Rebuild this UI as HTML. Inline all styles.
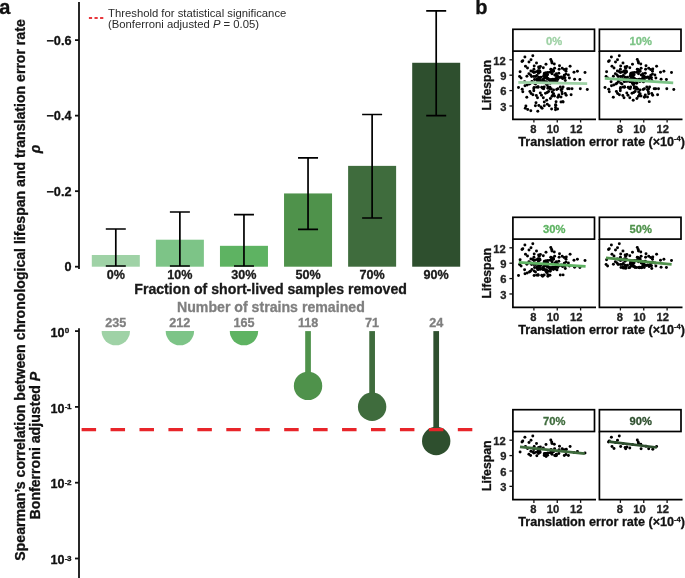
<!DOCTYPE html>
<html><head><meta charset="utf-8"><style>
html,body{margin:0;padding:0;background:#fff;width:685px;height:578px;overflow:hidden}
svg{display:block;will-change:transform}
</style></head><body>
<svg width="685" height="578" viewBox="0 0 685 578">
<rect width="685" height="578" fill="#fff"/>
<rect x="91.80" y="254.99" width="48.0" height="11.71" fill="#9fd2a6"/>
<rect x="155.88" y="239.70" width="48.0" height="27.00" fill="#7dc487"/>
<rect x="219.96" y="245.82" width="48.0" height="20.88" fill="#5eb362"/>
<rect x="284.04" y="193.44" width="48.0" height="73.26" fill="#4f924b"/>
<rect x="348.12" y="165.87" width="48.0" height="100.83" fill="#3f6c3d"/>
<rect x="412.20" y="62.77" width="48.0" height="203.93" fill="#2e4f2e"/>
<path d="M105.80 229.0H125.80M115.80 229.0V266.0M105.80 266.0H125.80" stroke="#000" stroke-width="1.7" fill="none"/>
<path d="M169.88 212.0H189.88M179.88 212.0V266.0M169.88 266.0H189.88" stroke="#000" stroke-width="1.7" fill="none"/>
<path d="M233.96 214.6H253.96M243.96 214.6V266.0M233.96 266.0H253.96" stroke="#000" stroke-width="1.7" fill="none"/>
<path d="M298.04 157.8H318.04M308.04 157.8V229.4M298.04 229.4H318.04" stroke="#000" stroke-width="1.7" fill="none"/>
<path d="M362.12 114.5H382.12M372.12 114.5V218.0M362.12 218.0H382.12" stroke="#000" stroke-width="1.7" fill="none"/>
<path d="M426.20 10.8H446.20M436.20 10.8V115.6M426.20 115.6H446.20" stroke="#000" stroke-width="1.7" fill="none"/>
<path d="M79 2V269" stroke="#111" stroke-width="1.8" fill="none"/>
<path d="M75 40.11H79" stroke="#111" stroke-width="1.8"/>
<text x="71.5" y="44.61" text-anchor="end" font-size="12.7" font-weight="bold" font-family="Liberation Sans, sans-serif" fill="#111" stroke="#111" stroke-width="0.3">−0.6</text>
<path d="M75 115.64H79" stroke="#111" stroke-width="1.8"/>
<text x="71.5" y="120.14" text-anchor="end" font-size="12.7" font-weight="bold" font-family="Liberation Sans, sans-serif" fill="#111" stroke="#111" stroke-width="0.3">−0.4</text>
<path d="M75 191.17H79" stroke="#111" stroke-width="1.8"/>
<text x="71.5" y="195.67" text-anchor="end" font-size="12.7" font-weight="bold" font-family="Liberation Sans, sans-serif" fill="#111" stroke="#111" stroke-width="0.3">−0.2</text>
<path d="M75 266.70H79" stroke="#111" stroke-width="1.8"/>
<text x="71.5" y="271.20" text-anchor="end" font-size="12.7" font-weight="bold" font-family="Liberation Sans, sans-serif" fill="#111" stroke="#111" stroke-width="0.3">0</text>
<text x="115.80" y="279" text-anchor="middle" font-size="12.6" font-weight="bold" font-family="Liberation Sans, sans-serif" fill="#1a1a1a" stroke="#1a1a1a" stroke-width="0.3">0%</text>
<text x="179.88" y="279" text-anchor="middle" font-size="12.6" font-weight="bold" font-family="Liberation Sans, sans-serif" fill="#1a1a1a" stroke="#1a1a1a" stroke-width="0.3">10%</text>
<text x="243.96" y="279" text-anchor="middle" font-size="12.6" font-weight="bold" font-family="Liberation Sans, sans-serif" fill="#1a1a1a" stroke="#1a1a1a" stroke-width="0.3">30%</text>
<text x="308.04" y="279" text-anchor="middle" font-size="12.6" font-weight="bold" font-family="Liberation Sans, sans-serif" fill="#1a1a1a" stroke="#1a1a1a" stroke-width="0.3">50%</text>
<text x="372.12" y="279" text-anchor="middle" font-size="12.6" font-weight="bold" font-family="Liberation Sans, sans-serif" fill="#1a1a1a" stroke="#1a1a1a" stroke-width="0.3">70%</text>
<text x="436.20" y="279" text-anchor="middle" font-size="12.6" font-weight="bold" font-family="Liberation Sans, sans-serif" fill="#1a1a1a" stroke="#1a1a1a" stroke-width="0.3">90%</text>
<text x="270.6" y="293.8" text-anchor="middle" font-size="14.15" font-weight="bold" font-family="Liberation Sans, sans-serif" fill="#1a1a1a" stroke="#1a1a1a" stroke-width="0.3">Fraction of short-lived samples removed</text>
<text x="270.9" y="311.5" text-anchor="middle" font-size="14.15" font-weight="bold" font-family="Liberation Sans, sans-serif" fill="#7f7f7f" stroke="#7f7f7f" stroke-width="0.3">Number of strains remained</text>
<text x="115.80" y="326.8" text-anchor="middle" font-size="12.6" font-weight="bold" font-family="Liberation Sans, sans-serif" fill="#7f7f7f" stroke="#7f7f7f" stroke-width="0.3">235</text>
<text x="179.88" y="326.8" text-anchor="middle" font-size="12.6" font-weight="bold" font-family="Liberation Sans, sans-serif" fill="#7f7f7f" stroke="#7f7f7f" stroke-width="0.3">212</text>
<text x="243.96" y="326.8" text-anchor="middle" font-size="12.6" font-weight="bold" font-family="Liberation Sans, sans-serif" fill="#7f7f7f" stroke="#7f7f7f" stroke-width="0.3">165</text>
<text x="308.04" y="326.8" text-anchor="middle" font-size="12.6" font-weight="bold" font-family="Liberation Sans, sans-serif" fill="#7f7f7f" stroke="#7f7f7f" stroke-width="0.3">118</text>
<text x="372.12" y="326.8" text-anchor="middle" font-size="12.6" font-weight="bold" font-family="Liberation Sans, sans-serif" fill="#7f7f7f" stroke="#7f7f7f" stroke-width="0.3">71</text>
<text x="436.20" y="326.8" text-anchor="middle" font-size="12.6" font-weight="bold" font-family="Liberation Sans, sans-serif" fill="#7f7f7f" stroke="#7f7f7f" stroke-width="0.3">24</text>
<path d="M88.9 17.9H103.4" stroke="#e8383d" stroke-width="2" stroke-dasharray="3.2 2.4"/>
<text x="108" y="17.4" font-size="11.3" font-family="Liberation Sans, sans-serif" fill="#2a2a2a">Threshold for statistical significance</text>
<text x="108" y="28.3" font-size="11.3" font-family="Liberation Sans, sans-serif" fill="#2a2a2a">(Bonferroni adjusted <tspan font-style="italic">P</tspan> = 0.05)</text>
<defs><clipPath id="cp"><rect x="79" y="331.1" width="400" height="260"/></clipPath></defs>
<g clip-path="url(#cp)"><circle cx="115.80" cy="331.1" r="14.2" fill="#9fd2a6"/><circle cx="179.88" cy="331.1" r="14.2" fill="#7dc487"/><circle cx="243.96" cy="331.1" r="14.2" fill="#5eb362"/><rect x="305.19" y="331.1" width="5.7" height="54.80" fill="#4f924b"/><circle cx="308.04" cy="385.9" r="14.2" fill="#4f924b"/><rect x="369.27" y="331.1" width="5.7" height="75.60" fill="#3f6c3d"/><circle cx="372.12" cy="406.7" r="14.2" fill="#3f6c3d"/><rect x="433.35" y="331.1" width="5.7" height="109.90" fill="#2e4f2e"/><circle cx="436.20" cy="441.0" r="14.2" fill="#2e4f2e"/></g>
<path d="M81.6 429.6H473" stroke="#e8252a" stroke-width="3.3" stroke-dasharray="14.5 14.44"/>
<path d="M79 328.2V578" stroke="#111" stroke-width="1.8" fill="none"/>
<path d="M75 331.10H79" stroke="#111" stroke-width="1.8"/>
<text x="64.5" y="336.70" text-anchor="end" font-size="12.6" font-weight="bold" font-family="Liberation Sans, sans-serif" fill="#111" stroke="#111" stroke-width="0.3">10</text>
<text x="64.8" y="333.10" font-size="8.1" letter-spacing="-0.6" font-weight="bold" font-family="Liberation Sans, sans-serif" fill="#111" stroke="#111" stroke-width="0.3">0</text>
<path d="M75 406.90H79" stroke="#111" stroke-width="1.8"/>
<text x="64.5" y="412.50" text-anchor="end" font-size="12.6" font-weight="bold" font-family="Liberation Sans, sans-serif" fill="#111" stroke="#111" stroke-width="0.3">10</text>
<text x="64.8" y="408.90" font-size="8.1" letter-spacing="-0.6" font-weight="bold" font-family="Liberation Sans, sans-serif" fill="#111" stroke="#111" stroke-width="0.3">-1</text>
<path d="M75 482.70H79" stroke="#111" stroke-width="1.8"/>
<text x="64.5" y="488.30" text-anchor="end" font-size="12.6" font-weight="bold" font-family="Liberation Sans, sans-serif" fill="#111" stroke="#111" stroke-width="0.3">10</text>
<text x="64.8" y="484.70" font-size="8.1" letter-spacing="-0.6" font-weight="bold" font-family="Liberation Sans, sans-serif" fill="#111" stroke="#111" stroke-width="0.3">-2</text>
<path d="M75 558.50H79" stroke="#111" stroke-width="1.8"/>
<text x="64.5" y="564.10" text-anchor="end" font-size="12.6" font-weight="bold" font-family="Liberation Sans, sans-serif" fill="#111" stroke="#111" stroke-width="0.3">10</text>
<text x="64.8" y="560.50" font-size="8.1" letter-spacing="-0.6" font-weight="bold" font-family="Liberation Sans, sans-serif" fill="#111" stroke="#111" stroke-width="0.3">-3</text>
<text transform="translate(25 290) rotate(-90)" text-anchor="middle" font-size="14.1" font-weight="bold" font-family="Liberation Sans, sans-serif" fill="#111" stroke="#111" stroke-width="0.3">Spearman’s correlation between chronological lifespan and translation error rate</text>
<text transform="translate(40 149) rotate(-90)" text-anchor="middle" font-size="14" font-style="italic" font-weight="bold" font-family="Liberation Sans, sans-serif" fill="#111" stroke="#111" stroke-width="0.3">ρ</text>
<text transform="translate(40.2 445.6) rotate(-90)" text-anchor="middle" font-size="14.15" font-weight="bold" font-family="Liberation Sans, sans-serif" fill="#111" stroke="#111" stroke-width="0.3">Bonferroni adjusted <tspan font-style="italic">P</tspan></text>
<text x="-0.8" y="14.2" font-size="20" font-weight="bold" font-family="Liberation Sans, sans-serif" fill="#111" stroke="#111" stroke-width="0.3">a</text>
<text x="475.2" y="14.4" font-size="20" font-weight="bold" font-family="Liberation Sans, sans-serif" fill="#111" stroke="#111" stroke-width="0.3">b</text>
<rect x="512.90" y="29.30" width="81.60" height="21.80" fill="#fff" stroke="#000" stroke-width="1.7"/>
<text x="554.15" y="44.50" text-anchor="middle" font-size="11.2" font-weight="bold" font-family="Liberation Sans, sans-serif" fill="#9fd2a6" stroke="#9fd2a6" stroke-width="0.3">0%</text>
<g fill="#000"><circle cx="532.80" cy="55.70" r="1.48"/><circle cx="524.90" cy="56.90" r="1.48"/><circle cx="550.79" cy="59.50" r="1.48"/><circle cx="531.01" cy="59.80" r="1.48"/><circle cx="522.80" cy="60.70" r="1.48"/><circle cx="522.00" cy="61.60" r="1.48"/><circle cx="551.70" cy="61.60" r="1.48"/><circle cx="529.00" cy="62.10" r="1.48"/><circle cx="552.00" cy="63.00" r="1.48"/><circle cx="536.50" cy="63.01" r="1.48"/><circle cx="554.30" cy="63.90" r="1.48"/><circle cx="546.00" cy="64.16" r="1.48"/><circle cx="559.50" cy="65.79" r="1.48"/><circle cx="534.20" cy="66.00" r="1.48"/><circle cx="525.49" cy="66.20" r="1.48"/><circle cx="570.10" cy="66.20" r="1.48"/><circle cx="540.40" cy="66.50" r="1.48"/><circle cx="538.61" cy="67.10" r="1.48"/><circle cx="543.30" cy="67.70" r="1.48"/><circle cx="527.50" cy="68.00" r="1.48"/><circle cx="539.20" cy="68.30" r="1.48"/><circle cx="554.60" cy="68.30" r="1.48"/><circle cx="562.20" cy="68.30" r="1.48"/><circle cx="566.30" cy="68.90" r="1.48"/><circle cx="533.90" cy="69.21" r="1.48"/><circle cx="550.79" cy="69.21" r="1.48"/><circle cx="559.10" cy="69.21" r="1.48"/><circle cx="551.33" cy="69.40" r="1.48"/><circle cx="564.12" cy="69.41" r="1.48"/><circle cx="553.08" cy="70.14" r="1.48"/><circle cx="538.12" cy="70.83" r="1.48"/><circle cx="530.90" cy="70.90" r="1.48"/><circle cx="539.70" cy="70.90" r="1.48"/><circle cx="553.50" cy="70.90" r="1.48"/><circle cx="577.40" cy="71.20" r="1.48"/><circle cx="552.18" cy="71.26" r="1.48"/><circle cx="566.00" cy="71.33" r="1.48"/><circle cx="553.37" cy="71.36" r="1.48"/><circle cx="532.70" cy="71.50" r="1.48"/><circle cx="537.40" cy="71.50" r="1.48"/><circle cx="551.40" cy="71.50" r="1.48"/><circle cx="520.10" cy="71.70" r="1.48"/><circle cx="535.50" cy="71.98" r="1.48"/><circle cx="540.09" cy="72.08" r="1.48"/><circle cx="574.00" cy="72.17" r="1.48"/><circle cx="550.18" cy="72.34" r="1.48"/><circle cx="533.90" cy="72.60" r="1.48"/><circle cx="547.90" cy="72.60" r="1.48"/><circle cx="585.00" cy="72.60" r="1.48"/><circle cx="545.74" cy="73.02" r="1.48"/><circle cx="546.26" cy="73.06" r="1.48"/><circle cx="538.50" cy="73.20" r="1.48"/><circle cx="544.40" cy="73.20" r="1.48"/><circle cx="558.80" cy="73.20" r="1.48"/><circle cx="546.09" cy="73.65" r="1.48"/><circle cx="556.36" cy="73.77" r="1.48"/><circle cx="528.90" cy="73.80" r="1.48"/><circle cx="552.00" cy="73.80" r="1.48"/><circle cx="565.96" cy="74.12" r="1.48"/><circle cx="544.33" cy="74.35" r="1.48"/><circle cx="547.60" cy="74.79" r="1.48"/><circle cx="530.60" cy="75.00" r="1.48"/><circle cx="545.51" cy="75.00" r="1.48"/><circle cx="568.40" cy="75.00" r="1.48"/><circle cx="554.71" cy="75.00" r="1.48"/><circle cx="556.40" cy="75.00" r="1.48"/><circle cx="544.27" cy="75.10" r="1.48"/><circle cx="564.30" cy="75.20" r="1.48"/><circle cx="536.84" cy="75.45" r="1.48"/><circle cx="555.90" cy="75.46" r="1.48"/><circle cx="546.10" cy="76.10" r="1.48"/><circle cx="543.58" cy="76.27" r="1.48"/><circle cx="526.90" cy="76.30" r="1.48"/><circle cx="557.50" cy="76.31" r="1.48"/><circle cx="519.60" cy="76.42" r="1.48"/><circle cx="531.60" cy="76.42" r="1.48"/><circle cx="533.90" cy="76.42" r="1.48"/><circle cx="535.69" cy="76.53" r="1.48"/><circle cx="544.84" cy="76.91" r="1.48"/><circle cx="546.71" cy="77.00" r="1.48"/><circle cx="561.28" cy="77.06" r="1.48"/><circle cx="540.91" cy="77.20" r="1.48"/><circle cx="558.80" cy="77.20" r="1.48"/><circle cx="538.73" cy="77.33" r="1.48"/><circle cx="563.50" cy="77.50" r="1.48"/><circle cx="559.83" cy="77.53" r="1.48"/><circle cx="563.95" cy="77.68" r="1.48"/><circle cx="564.97" cy="77.80" r="1.48"/><circle cx="544.73" cy="77.96" r="1.48"/><circle cx="556.62" cy="77.98" r="1.48"/><circle cx="521.10" cy="78.10" r="1.48"/><circle cx="569.40" cy="78.10" r="1.48"/><circle cx="562.83" cy="78.13" r="1.48"/><circle cx="546.80" cy="78.40" r="1.48"/><circle cx="548.03" cy="78.58" r="1.48"/><circle cx="562.60" cy="78.60" r="1.48"/><circle cx="555.73" cy="78.61" r="1.48"/><circle cx="539.59" cy="78.76" r="1.48"/><circle cx="536.90" cy="78.90" r="1.48"/><circle cx="574.60" cy="79.20" r="1.48"/><circle cx="552.86" cy="79.35" r="1.48"/><circle cx="549.97" cy="79.42" r="1.48"/><circle cx="554.93" cy="79.49" r="1.48"/><circle cx="534.50" cy="79.50" r="1.48"/><circle cx="543.30" cy="79.50" r="1.48"/><circle cx="548.49" cy="79.50" r="1.48"/><circle cx="552.00" cy="79.50" r="1.48"/><circle cx="579.90" cy="79.50" r="1.48"/><circle cx="557.71" cy="79.50" r="1.48"/><circle cx="553.60" cy="79.50" r="1.48"/><circle cx="553.14" cy="79.82" r="1.48"/><circle cx="542.48" cy="79.82" r="1.48"/><circle cx="555.21" cy="79.86" r="1.48"/><circle cx="538.65" cy="79.87" r="1.48"/><circle cx="536.70" cy="80.00" r="1.48"/><circle cx="538.00" cy="80.10" r="1.48"/><circle cx="539.41" cy="80.31" r="1.48"/><circle cx="565.29" cy="80.40" r="1.48"/><circle cx="539.20" cy="80.70" r="1.48"/><circle cx="550.30" cy="80.70" r="1.48"/><circle cx="555.30" cy="80.70" r="1.48"/><circle cx="539.71" cy="80.96" r="1.48"/><circle cx="543.87" cy="81.20" r="1.48"/><circle cx="538.27" cy="81.24" r="1.48"/><circle cx="540.56" cy="81.27" r="1.48"/><circle cx="543.89" cy="81.30" r="1.48"/><circle cx="550.14" cy="81.38" r="1.48"/><circle cx="531.90" cy="81.40" r="1.48"/><circle cx="543.74" cy="81.55" r="1.48"/><circle cx="553.40" cy="81.57" r="1.48"/><circle cx="550.97" cy="81.61" r="1.48"/><circle cx="542.96" cy="81.62" r="1.48"/><circle cx="537.79" cy="81.63" r="1.48"/><circle cx="546.30" cy="81.75" r="1.48"/><circle cx="524.60" cy="81.80" r="1.48"/><circle cx="556.96" cy="81.89" r="1.48"/><circle cx="545.11" cy="82.05" r="1.48"/><circle cx="534.10" cy="82.90" r="1.48"/><circle cx="546.28" cy="83.02" r="1.48"/><circle cx="547.37" cy="83.07" r="1.48"/><circle cx="547.89" cy="83.13" r="1.48"/><circle cx="530.40" cy="83.30" r="1.48"/><circle cx="547.20" cy="83.30" r="1.48"/><circle cx="550.18" cy="83.37" r="1.48"/><circle cx="546.51" cy="83.37" r="1.48"/><circle cx="546.05" cy="83.55" r="1.48"/><circle cx="547.16" cy="83.60" r="1.48"/><circle cx="529.41" cy="84.00" r="1.48"/><circle cx="535.50" cy="84.00" r="1.48"/><circle cx="546.81" cy="84.64" r="1.48"/><circle cx="527.20" cy="85.10" r="1.48"/><circle cx="525.00" cy="85.80" r="1.48"/><circle cx="538.05" cy="86.66" r="1.48"/><circle cx="547.96" cy="86.82" r="1.48"/><circle cx="563.09" cy="86.88" r="1.48"/><circle cx="544.20" cy="86.90" r="1.48"/><circle cx="560.30" cy="87.03" r="1.48"/><circle cx="536.62" cy="87.14" r="1.48"/><circle cx="538.10" cy="87.20" r="1.48"/><circle cx="541.70" cy="87.20" r="1.48"/><circle cx="549.92" cy="87.25" r="1.48"/><circle cx="518.50" cy="87.60" r="1.48"/><circle cx="534.10" cy="87.60" r="1.48"/><circle cx="542.63" cy="88.28" r="1.48"/><circle cx="547.90" cy="88.30" r="1.48"/><circle cx="533.80" cy="88.73" r="1.48"/><circle cx="543.70" cy="88.73" r="1.48"/><circle cx="549.80" cy="88.73" r="1.48"/><circle cx="567.70" cy="88.73" r="1.48"/><circle cx="557.90" cy="88.73" r="1.48"/><circle cx="562.20" cy="88.73" r="1.48"/><circle cx="569.21" cy="88.73" r="1.48"/><circle cx="572.00" cy="88.73" r="1.48"/><circle cx="580.30" cy="88.73" r="1.48"/><circle cx="551.30" cy="88.90" r="1.48"/><circle cx="550.20" cy="88.90" r="1.48"/><circle cx="522.20" cy="89.20" r="1.48"/><circle cx="587.30" cy="89.40" r="1.48"/><circle cx="556.70" cy="89.50" r="1.48"/><circle cx="561.00" cy="89.80" r="1.48"/><circle cx="553.60" cy="90.10" r="1.48"/><circle cx="533.80" cy="90.70" r="1.48"/><circle cx="529.90" cy="91.40" r="1.48"/><circle cx="548.60" cy="91.40" r="1.48"/><circle cx="522.80" cy="91.70" r="1.48"/><circle cx="561.90" cy="91.70" r="1.48"/><circle cx="552.20" cy="92.00" r="1.48"/><circle cx="547.30" cy="92.60" r="1.48"/><circle cx="540.30" cy="92.90" r="1.48"/><circle cx="545.51" cy="93.20" r="1.48"/><circle cx="531.10" cy="93.50" r="1.48"/><circle cx="565.29" cy="93.50" r="1.48"/><circle cx="562.20" cy="93.80" r="1.48"/><circle cx="553.60" cy="93.80" r="1.48"/><circle cx="532.90" cy="94.70" r="1.48"/><circle cx="571.10" cy="94.70" r="1.48"/><circle cx="552.90" cy="95.00" r="1.48"/><circle cx="558.80" cy="95.00" r="1.48"/><circle cx="541.50" cy="95.30" r="1.48"/><circle cx="566.21" cy="95.30" r="1.48"/><circle cx="536.31" cy="95.60" r="1.48"/><circle cx="554.50" cy="96.00" r="1.48"/><circle cx="551.96" cy="96.20" r="1.48"/><circle cx="558.39" cy="96.38" r="1.48"/><circle cx="561.00" cy="96.90" r="1.48"/><circle cx="526.80" cy="97.20" r="1.48"/><circle cx="557.90" cy="97.20" r="1.48"/><circle cx="537.50" cy="97.80" r="1.48"/><circle cx="543.30" cy="97.80" r="1.48"/><circle cx="550.40" cy="98.40" r="1.48"/><circle cx="546.70" cy="100.20" r="1.48"/><circle cx="562.76" cy="101.64" r="1.48"/><circle cx="556.09" cy="101.80" r="1.48"/><circle cx="544.30" cy="102.10" r="1.48"/><circle cx="561.00" cy="102.10" r="1.48"/><circle cx="563.10" cy="102.10" r="1.48"/><circle cx="536.00" cy="102.70" r="1.48"/><circle cx="547.30" cy="104.20" r="1.48"/><circle cx="555.65" cy="104.81" r="1.48"/><circle cx="555.80" cy="105.20" r="1.48"/><circle cx="538.80" cy="105.50" r="1.48"/><circle cx="535.39" cy="105.80" r="1.48"/><circle cx="544.30" cy="105.80" r="1.48"/><circle cx="549.19" cy="105.80" r="1.48"/><circle cx="525.90" cy="106.10" r="1.48"/><circle cx="540.91" cy="107.00" r="1.48"/><circle cx="555.50" cy="107.60" r="1.48"/><circle cx="542.10" cy="108.20" r="1.48"/><circle cx="525.30" cy="108.20" r="1.48"/><circle cx="551.60" cy="109.10" r="1.48"/><circle cx="557.60" cy="109.10" r="1.48"/><circle cx="527.70" cy="109.40" r="1.48"/><circle cx="555.50" cy="109.80" r="1.48"/><circle cx="530.79" cy="110.70" r="1.48"/><circle cx="537.80" cy="111.30" r="1.48"/></g>
<path d="M518.3 82.3L587.2 83.7" stroke="#9fd2a6" stroke-width="2.7"/>
<path d="M512.90 51.10V119.30H596.00" stroke="#000" stroke-width="1.7" fill="none"/>
<path d="M509.40 105.97H512.90" stroke="#111" stroke-width="1.3"/>
<text x="506.50" y="110.87" text-anchor="end" font-size="11.2" font-weight="bold" font-family="Liberation Sans, sans-serif" fill="#222" stroke="#222" stroke-width="0.3">3</text>
<path d="M509.40 90.58H512.90" stroke="#111" stroke-width="1.3"/>
<text x="506.50" y="95.48" text-anchor="end" font-size="11.2" font-weight="bold" font-family="Liberation Sans, sans-serif" fill="#222" stroke="#222" stroke-width="0.3">6</text>
<path d="M509.40 75.19H512.90" stroke="#111" stroke-width="1.3"/>
<text x="506.50" y="80.09" text-anchor="end" font-size="11.2" font-weight="bold" font-family="Liberation Sans, sans-serif" fill="#222" stroke="#222" stroke-width="0.3">9</text>
<path d="M509.40 59.80H512.90" stroke="#111" stroke-width="1.3"/>
<text x="505.70" y="64.70" text-anchor="end" font-size="11.2" font-weight="bold" font-family="Liberation Sans, sans-serif" fill="#222" stroke="#222" stroke-width="0.3">12</text>
<text transform="translate(491.2 85.30) rotate(-90)" text-anchor="middle" font-size="12.3" font-weight="bold" font-family="Liberation Sans, sans-serif" fill="#111" stroke="#111" stroke-width="0.3">Lifespan</text>
<path d="M533.90 119.00V122.50" stroke="#111" stroke-width="1.3"/>
<text x="533.30" y="132.60" text-anchor="middle" font-size="11.2" font-weight="bold" font-family="Liberation Sans, sans-serif" fill="#222" stroke="#222" stroke-width="0.3">8</text>
<path d="M557.25 119.00V122.50" stroke="#111" stroke-width="1.3"/>
<text x="552.95" y="132.60" text-anchor="middle" font-size="11.2" font-weight="bold" font-family="Liberation Sans, sans-serif" fill="#222" stroke="#222" stroke-width="0.3">10</text>
<path d="M580.60 119.00V122.50" stroke="#111" stroke-width="1.3"/>
<text x="576.30" y="132.60" text-anchor="middle" font-size="11.2" font-weight="bold" font-family="Liberation Sans, sans-serif" fill="#222" stroke="#222" stroke-width="0.3">12</text>
<text x="518.3" y="145.90" font-size="12.6" font-weight="bold" font-family="Liberation Sans, sans-serif" fill="#111" stroke="#111" stroke-width="0.3">Translation error rate (×10<tspan font-size="7.5" dy="-4.5">-4</tspan><tspan dy="4.5">)</tspan></text>
<rect x="599.40" y="29.30" width="81.60" height="21.80" fill="#fff" stroke="#000" stroke-width="1.7"/>
<text x="640.65" y="44.50" text-anchor="middle" font-size="11.2" font-weight="bold" font-family="Liberation Sans, sans-serif" fill="#7dc487" stroke="#7dc487" stroke-width="0.3">10%</text>
<g fill="#000"><circle cx="619.30" cy="55.70" r="1.48"/><circle cx="611.40" cy="56.90" r="1.48"/><circle cx="637.29" cy="59.50" r="1.48"/><circle cx="617.51" cy="59.80" r="1.48"/><circle cx="609.30" cy="60.70" r="1.48"/><circle cx="608.50" cy="61.60" r="1.48"/><circle cx="638.20" cy="61.60" r="1.48"/><circle cx="615.50" cy="62.10" r="1.48"/><circle cx="638.50" cy="63.00" r="1.48"/><circle cx="623.00" cy="63.01" r="1.48"/><circle cx="640.80" cy="63.90" r="1.48"/><circle cx="632.50" cy="64.16" r="1.48"/><circle cx="646.00" cy="65.79" r="1.48"/><circle cx="620.70" cy="66.00" r="1.48"/><circle cx="611.99" cy="66.20" r="1.48"/><circle cx="656.60" cy="66.20" r="1.48"/><circle cx="626.90" cy="66.50" r="1.48"/><circle cx="625.11" cy="67.10" r="1.48"/><circle cx="629.80" cy="67.70" r="1.48"/><circle cx="614.00" cy="68.00" r="1.48"/><circle cx="625.70" cy="68.30" r="1.48"/><circle cx="641.10" cy="68.30" r="1.48"/><circle cx="648.70" cy="68.30" r="1.48"/><circle cx="652.80" cy="68.90" r="1.48"/><circle cx="620.40" cy="69.21" r="1.48"/><circle cx="637.29" cy="69.21" r="1.48"/><circle cx="645.60" cy="69.21" r="1.48"/><circle cx="637.83" cy="69.40" r="1.48"/><circle cx="650.62" cy="69.41" r="1.48"/><circle cx="639.58" cy="70.14" r="1.48"/><circle cx="624.62" cy="70.83" r="1.48"/><circle cx="617.40" cy="70.90" r="1.48"/><circle cx="626.20" cy="70.90" r="1.48"/><circle cx="640.00" cy="70.90" r="1.48"/><circle cx="663.90" cy="71.20" r="1.48"/><circle cx="638.68" cy="71.26" r="1.48"/><circle cx="652.50" cy="71.33" r="1.48"/><circle cx="639.87" cy="71.36" r="1.48"/><circle cx="619.20" cy="71.50" r="1.48"/><circle cx="623.90" cy="71.50" r="1.48"/><circle cx="637.90" cy="71.50" r="1.48"/><circle cx="606.60" cy="71.70" r="1.48"/><circle cx="622.00" cy="71.98" r="1.48"/><circle cx="626.59" cy="72.08" r="1.48"/><circle cx="660.50" cy="72.17" r="1.48"/><circle cx="636.68" cy="72.34" r="1.48"/><circle cx="620.40" cy="72.60" r="1.48"/><circle cx="634.40" cy="72.60" r="1.48"/><circle cx="671.50" cy="72.60" r="1.48"/><circle cx="632.24" cy="73.02" r="1.48"/><circle cx="632.76" cy="73.06" r="1.48"/><circle cx="625.00" cy="73.20" r="1.48"/><circle cx="630.90" cy="73.20" r="1.48"/><circle cx="645.30" cy="73.20" r="1.48"/><circle cx="632.59" cy="73.65" r="1.48"/><circle cx="642.86" cy="73.77" r="1.48"/><circle cx="615.40" cy="73.80" r="1.48"/><circle cx="638.50" cy="73.80" r="1.48"/><circle cx="652.46" cy="74.12" r="1.48"/><circle cx="630.83" cy="74.35" r="1.48"/><circle cx="634.10" cy="74.79" r="1.48"/><circle cx="617.10" cy="75.00" r="1.48"/><circle cx="632.01" cy="75.00" r="1.48"/><circle cx="654.90" cy="75.00" r="1.48"/><circle cx="641.21" cy="75.00" r="1.48"/><circle cx="642.90" cy="75.00" r="1.48"/><circle cx="630.77" cy="75.10" r="1.48"/><circle cx="650.80" cy="75.20" r="1.48"/><circle cx="623.34" cy="75.45" r="1.48"/><circle cx="642.40" cy="75.46" r="1.48"/><circle cx="632.60" cy="76.10" r="1.48"/><circle cx="630.08" cy="76.27" r="1.48"/><circle cx="613.40" cy="76.30" r="1.48"/><circle cx="644.00" cy="76.31" r="1.48"/><circle cx="606.10" cy="76.42" r="1.48"/><circle cx="618.10" cy="76.42" r="1.48"/><circle cx="620.40" cy="76.42" r="1.48"/><circle cx="622.19" cy="76.53" r="1.48"/><circle cx="631.34" cy="76.91" r="1.48"/><circle cx="633.21" cy="77.00" r="1.48"/><circle cx="647.78" cy="77.06" r="1.48"/><circle cx="627.41" cy="77.20" r="1.48"/><circle cx="645.30" cy="77.20" r="1.48"/><circle cx="625.23" cy="77.33" r="1.48"/><circle cx="650.00" cy="77.50" r="1.48"/><circle cx="646.33" cy="77.53" r="1.48"/><circle cx="650.45" cy="77.68" r="1.48"/><circle cx="651.47" cy="77.80" r="1.48"/><circle cx="631.23" cy="77.96" r="1.48"/><circle cx="643.12" cy="77.98" r="1.48"/><circle cx="607.60" cy="78.10" r="1.48"/><circle cx="655.90" cy="78.10" r="1.48"/><circle cx="649.33" cy="78.13" r="1.48"/><circle cx="633.30" cy="78.40" r="1.48"/><circle cx="634.53" cy="78.58" r="1.48"/><circle cx="649.10" cy="78.60" r="1.48"/><circle cx="642.23" cy="78.61" r="1.48"/><circle cx="626.09" cy="78.76" r="1.48"/><circle cx="623.40" cy="78.90" r="1.48"/><circle cx="661.10" cy="79.20" r="1.48"/><circle cx="639.36" cy="79.35" r="1.48"/><circle cx="636.47" cy="79.42" r="1.48"/><circle cx="641.43" cy="79.49" r="1.48"/><circle cx="621.00" cy="79.50" r="1.48"/><circle cx="629.80" cy="79.50" r="1.48"/><circle cx="634.99" cy="79.50" r="1.48"/><circle cx="638.50" cy="79.50" r="1.48"/><circle cx="666.40" cy="79.50" r="1.48"/><circle cx="644.21" cy="79.50" r="1.48"/><circle cx="640.10" cy="79.50" r="1.48"/><circle cx="639.64" cy="79.82" r="1.48"/><circle cx="628.98" cy="79.82" r="1.48"/><circle cx="641.71" cy="79.86" r="1.48"/><circle cx="625.15" cy="79.87" r="1.48"/><circle cx="623.20" cy="80.00" r="1.48"/><circle cx="624.50" cy="80.10" r="1.48"/><circle cx="625.91" cy="80.31" r="1.48"/><circle cx="651.79" cy="80.40" r="1.48"/><circle cx="625.70" cy="80.70" r="1.48"/><circle cx="636.80" cy="80.70" r="1.48"/><circle cx="641.80" cy="80.70" r="1.48"/><circle cx="626.21" cy="80.96" r="1.48"/><circle cx="630.37" cy="81.20" r="1.48"/><circle cx="624.77" cy="81.24" r="1.48"/><circle cx="627.06" cy="81.27" r="1.48"/><circle cx="630.39" cy="81.30" r="1.48"/><circle cx="636.64" cy="81.38" r="1.48"/><circle cx="618.40" cy="81.40" r="1.48"/><circle cx="630.24" cy="81.55" r="1.48"/><circle cx="639.90" cy="81.57" r="1.48"/><circle cx="637.47" cy="81.61" r="1.48"/><circle cx="629.46" cy="81.62" r="1.48"/><circle cx="624.29" cy="81.63" r="1.48"/><circle cx="632.80" cy="81.75" r="1.48"/><circle cx="611.10" cy="81.80" r="1.48"/><circle cx="643.46" cy="81.89" r="1.48"/><circle cx="631.61" cy="82.05" r="1.48"/><circle cx="620.60" cy="82.90" r="1.48"/><circle cx="632.78" cy="83.02" r="1.48"/><circle cx="633.87" cy="83.07" r="1.48"/><circle cx="634.39" cy="83.13" r="1.48"/><circle cx="616.90" cy="83.30" r="1.48"/><circle cx="633.70" cy="83.30" r="1.48"/><circle cx="636.68" cy="83.37" r="1.48"/><circle cx="633.01" cy="83.37" r="1.48"/><circle cx="632.55" cy="83.55" r="1.48"/><circle cx="633.66" cy="83.60" r="1.48"/><circle cx="615.91" cy="84.00" r="1.48"/><circle cx="622.00" cy="84.00" r="1.48"/><circle cx="633.31" cy="84.64" r="1.48"/><circle cx="613.70" cy="85.10" r="1.48"/><circle cx="611.50" cy="85.80" r="1.48"/><circle cx="624.55" cy="86.66" r="1.48"/><circle cx="634.46" cy="86.82" r="1.48"/><circle cx="649.59" cy="86.88" r="1.48"/><circle cx="630.70" cy="86.90" r="1.48"/><circle cx="646.80" cy="87.03" r="1.48"/><circle cx="623.12" cy="87.14" r="1.48"/><circle cx="624.60" cy="87.20" r="1.48"/><circle cx="628.20" cy="87.20" r="1.48"/><circle cx="636.42" cy="87.25" r="1.48"/><circle cx="605.00" cy="87.60" r="1.48"/><circle cx="620.60" cy="87.60" r="1.48"/><circle cx="629.13" cy="88.28" r="1.48"/><circle cx="634.40" cy="88.30" r="1.48"/><circle cx="620.30" cy="88.73" r="1.48"/><circle cx="630.20" cy="88.73" r="1.48"/><circle cx="636.30" cy="88.73" r="1.48"/><circle cx="654.20" cy="88.73" r="1.48"/><circle cx="644.40" cy="88.73" r="1.48"/><circle cx="648.70" cy="88.73" r="1.48"/><circle cx="655.71" cy="88.73" r="1.48"/><circle cx="658.50" cy="88.73" r="1.48"/><circle cx="666.80" cy="88.73" r="1.48"/><circle cx="637.80" cy="88.90" r="1.48"/><circle cx="636.70" cy="88.90" r="1.48"/><circle cx="608.70" cy="89.20" r="1.48"/><circle cx="673.80" cy="89.40" r="1.48"/><circle cx="643.20" cy="89.50" r="1.48"/><circle cx="647.50" cy="89.80" r="1.48"/><circle cx="640.10" cy="90.10" r="1.48"/><circle cx="620.30" cy="90.70" r="1.48"/><circle cx="616.40" cy="91.40" r="1.48"/><circle cx="635.10" cy="91.40" r="1.48"/><circle cx="609.30" cy="91.70" r="1.48"/><circle cx="648.40" cy="91.70" r="1.48"/><circle cx="638.70" cy="92.00" r="1.48"/><circle cx="633.80" cy="92.60" r="1.48"/><circle cx="626.80" cy="92.90" r="1.48"/><circle cx="632.01" cy="93.20" r="1.48"/><circle cx="617.60" cy="93.50" r="1.48"/><circle cx="651.79" cy="93.50" r="1.48"/><circle cx="648.70" cy="93.80" r="1.48"/><circle cx="640.10" cy="93.80" r="1.48"/><circle cx="619.40" cy="94.70" r="1.48"/><circle cx="657.60" cy="94.70" r="1.48"/><circle cx="639.40" cy="95.00" r="1.48"/><circle cx="645.30" cy="95.00" r="1.48"/><circle cx="628.00" cy="95.30" r="1.48"/><circle cx="652.71" cy="95.30" r="1.48"/><circle cx="622.81" cy="95.60" r="1.48"/><circle cx="641.00" cy="96.00" r="1.48"/><circle cx="638.46" cy="96.20" r="1.48"/><circle cx="644.89" cy="96.38" r="1.48"/><circle cx="647.50" cy="96.90" r="1.48"/><circle cx="613.30" cy="97.20" r="1.48"/><circle cx="644.40" cy="97.20" r="1.48"/><circle cx="624.00" cy="97.80" r="1.48"/><circle cx="629.80" cy="97.80" r="1.48"/><circle cx="636.90" cy="98.40" r="1.48"/><circle cx="633.20" cy="100.20" r="1.48"/><circle cx="649.26" cy="101.64" r="1.48"/></g>
<path d="M604.8 78.3L673.2 82.9" stroke="#7dc487" stroke-width="2.7"/>
<path d="M599.40 51.10V119.30H682.50" stroke="#000" stroke-width="1.7" fill="none"/>
<path d="M620.40 119.00V122.50" stroke="#111" stroke-width="1.3"/>
<text x="619.80" y="132.60" text-anchor="middle" font-size="11.2" font-weight="bold" font-family="Liberation Sans, sans-serif" fill="#222" stroke="#222" stroke-width="0.3">8</text>
<path d="M643.75 119.00V122.50" stroke="#111" stroke-width="1.3"/>
<text x="639.45" y="132.60" text-anchor="middle" font-size="11.2" font-weight="bold" font-family="Liberation Sans, sans-serif" fill="#222" stroke="#222" stroke-width="0.3">10</text>
<path d="M667.10 119.00V122.50" stroke="#111" stroke-width="1.3"/>
<text x="662.80" y="132.60" text-anchor="middle" font-size="11.2" font-weight="bold" font-family="Liberation Sans, sans-serif" fill="#222" stroke="#222" stroke-width="0.3">12</text>
<rect x="512.90" y="217.30" width="81.60" height="21.80" fill="#fff" stroke="#000" stroke-width="1.7"/>
<text x="554.15" y="232.50" text-anchor="middle" font-size="11.2" font-weight="bold" font-family="Liberation Sans, sans-serif" fill="#5eb362" stroke="#5eb362" stroke-width="0.3">30%</text>
<g fill="#000"><circle cx="532.80" cy="243.70" r="1.48"/><circle cx="524.90" cy="244.90" r="1.48"/><circle cx="550.79" cy="247.50" r="1.48"/><circle cx="531.01" cy="247.80" r="1.48"/><circle cx="522.80" cy="248.70" r="1.48"/><circle cx="522.00" cy="249.60" r="1.48"/><circle cx="551.70" cy="249.60" r="1.48"/><circle cx="529.00" cy="250.10" r="1.48"/><circle cx="552.00" cy="251.00" r="1.48"/><circle cx="536.50" cy="251.01" r="1.48"/><circle cx="554.30" cy="251.90" r="1.48"/><circle cx="546.00" cy="252.16" r="1.48"/><circle cx="559.50" cy="253.79" r="1.48"/><circle cx="534.20" cy="254.00" r="1.48"/><circle cx="525.49" cy="254.20" r="1.48"/><circle cx="570.10" cy="254.20" r="1.48"/><circle cx="540.40" cy="254.50" r="1.48"/><circle cx="538.61" cy="255.10" r="1.48"/><circle cx="543.30" cy="255.70" r="1.48"/><circle cx="527.50" cy="256.00" r="1.48"/><circle cx="539.20" cy="256.30" r="1.48"/><circle cx="554.60" cy="256.30" r="1.48"/><circle cx="562.20" cy="256.30" r="1.48"/><circle cx="566.30" cy="256.90" r="1.48"/><circle cx="533.90" cy="257.21" r="1.48"/><circle cx="550.79" cy="257.21" r="1.48"/><circle cx="559.10" cy="257.21" r="1.48"/><circle cx="551.33" cy="257.40" r="1.48"/><circle cx="564.12" cy="257.41" r="1.48"/><circle cx="553.08" cy="258.14" r="1.48"/><circle cx="538.12" cy="258.83" r="1.48"/><circle cx="530.90" cy="258.90" r="1.48"/><circle cx="539.70" cy="258.90" r="1.48"/><circle cx="553.50" cy="258.90" r="1.48"/><circle cx="577.40" cy="259.20" r="1.48"/><circle cx="552.18" cy="259.26" r="1.48"/><circle cx="566.00" cy="259.33" r="1.48"/><circle cx="553.37" cy="259.36" r="1.48"/><circle cx="532.70" cy="259.50" r="1.48"/><circle cx="537.40" cy="259.50" r="1.48"/><circle cx="551.40" cy="259.50" r="1.48"/><circle cx="520.10" cy="259.70" r="1.48"/><circle cx="535.50" cy="259.98" r="1.48"/><circle cx="540.09" cy="260.08" r="1.48"/><circle cx="574.00" cy="260.17" r="1.48"/><circle cx="550.18" cy="260.34" r="1.48"/><circle cx="533.90" cy="260.60" r="1.48"/><circle cx="547.90" cy="260.60" r="1.48"/><circle cx="585.00" cy="260.60" r="1.48"/><circle cx="545.74" cy="261.02" r="1.48"/><circle cx="546.26" cy="261.06" r="1.48"/><circle cx="538.50" cy="261.20" r="1.48"/><circle cx="544.40" cy="261.20" r="1.48"/><circle cx="558.80" cy="261.20" r="1.48"/><circle cx="546.09" cy="261.65" r="1.48"/><circle cx="556.36" cy="261.77" r="1.48"/><circle cx="528.90" cy="261.80" r="1.48"/><circle cx="552.00" cy="261.80" r="1.48"/><circle cx="565.96" cy="262.12" r="1.48"/><circle cx="544.33" cy="262.35" r="1.48"/><circle cx="547.60" cy="262.79" r="1.48"/><circle cx="530.60" cy="263.00" r="1.48"/><circle cx="545.51" cy="263.00" r="1.48"/><circle cx="568.40" cy="263.00" r="1.48"/><circle cx="554.71" cy="263.00" r="1.48"/><circle cx="556.40" cy="263.00" r="1.48"/><circle cx="544.27" cy="263.10" r="1.48"/><circle cx="564.30" cy="263.20" r="1.48"/><circle cx="536.84" cy="263.45" r="1.48"/><circle cx="555.90" cy="263.46" r="1.48"/><circle cx="546.10" cy="264.10" r="1.48"/><circle cx="543.58" cy="264.27" r="1.48"/><circle cx="526.90" cy="264.30" r="1.48"/><circle cx="557.50" cy="264.31" r="1.48"/><circle cx="519.60" cy="264.42" r="1.48"/><circle cx="531.60" cy="264.42" r="1.48"/><circle cx="533.90" cy="264.42" r="1.48"/><circle cx="535.69" cy="264.53" r="1.48"/><circle cx="544.84" cy="264.91" r="1.48"/><circle cx="546.71" cy="265.00" r="1.48"/><circle cx="561.28" cy="265.06" r="1.48"/><circle cx="540.91" cy="265.20" r="1.48"/><circle cx="558.80" cy="265.20" r="1.48"/><circle cx="538.73" cy="265.33" r="1.48"/><circle cx="563.50" cy="265.50" r="1.48"/><circle cx="559.83" cy="265.53" r="1.48"/><circle cx="563.95" cy="265.68" r="1.48"/><circle cx="564.97" cy="265.80" r="1.48"/><circle cx="544.73" cy="265.96" r="1.48"/><circle cx="556.62" cy="265.98" r="1.48"/><circle cx="521.10" cy="266.10" r="1.48"/><circle cx="569.40" cy="266.10" r="1.48"/><circle cx="562.83" cy="266.13" r="1.48"/><circle cx="546.80" cy="266.40" r="1.48"/><circle cx="548.03" cy="266.58" r="1.48"/><circle cx="562.60" cy="266.60" r="1.48"/><circle cx="555.73" cy="266.61" r="1.48"/><circle cx="539.59" cy="266.76" r="1.48"/><circle cx="536.90" cy="266.90" r="1.48"/><circle cx="574.60" cy="267.20" r="1.48"/><circle cx="552.86" cy="267.35" r="1.48"/><circle cx="549.97" cy="267.42" r="1.48"/><circle cx="554.93" cy="267.49" r="1.48"/><circle cx="534.50" cy="267.50" r="1.48"/><circle cx="543.30" cy="267.50" r="1.48"/><circle cx="548.49" cy="267.50" r="1.48"/><circle cx="552.00" cy="267.50" r="1.48"/><circle cx="579.90" cy="267.50" r="1.48"/><circle cx="557.71" cy="267.50" r="1.48"/><circle cx="553.60" cy="267.50" r="1.48"/><circle cx="553.14" cy="267.82" r="1.48"/><circle cx="542.48" cy="267.82" r="1.48"/><circle cx="555.21" cy="267.86" r="1.48"/><circle cx="538.65" cy="267.87" r="1.48"/><circle cx="536.70" cy="268.00" r="1.48"/><circle cx="538.00" cy="268.10" r="1.48"/><circle cx="539.41" cy="268.31" r="1.48"/><circle cx="565.29" cy="268.40" r="1.48"/><circle cx="539.20" cy="268.70" r="1.48"/><circle cx="550.30" cy="268.70" r="1.48"/><circle cx="555.30" cy="268.70" r="1.48"/><circle cx="539.71" cy="268.96" r="1.48"/><circle cx="543.87" cy="269.20" r="1.48"/><circle cx="538.27" cy="269.24" r="1.48"/><circle cx="540.56" cy="269.27" r="1.48"/><circle cx="543.89" cy="269.30" r="1.48"/><circle cx="550.14" cy="269.38" r="1.48"/><circle cx="531.90" cy="269.40" r="1.48"/><circle cx="543.74" cy="269.55" r="1.48"/><circle cx="553.40" cy="269.57" r="1.48"/><circle cx="550.97" cy="269.61" r="1.48"/><circle cx="542.96" cy="269.62" r="1.48"/><circle cx="537.79" cy="269.63" r="1.48"/><circle cx="546.30" cy="269.75" r="1.48"/><circle cx="524.60" cy="269.80" r="1.48"/><circle cx="556.96" cy="269.89" r="1.48"/><circle cx="545.11" cy="270.05" r="1.48"/><circle cx="534.10" cy="270.90" r="1.48"/><circle cx="546.28" cy="271.02" r="1.48"/><circle cx="547.37" cy="271.07" r="1.48"/><circle cx="547.89" cy="271.13" r="1.48"/><circle cx="530.40" cy="271.30" r="1.48"/><circle cx="547.20" cy="271.30" r="1.48"/><circle cx="550.18" cy="271.37" r="1.48"/><circle cx="546.51" cy="271.37" r="1.48"/><circle cx="546.05" cy="271.55" r="1.48"/><circle cx="547.16" cy="271.60" r="1.48"/><circle cx="529.41" cy="272.00" r="1.48"/><circle cx="535.50" cy="272.00" r="1.48"/><circle cx="546.81" cy="272.64" r="1.48"/><circle cx="527.20" cy="273.10" r="1.48"/><circle cx="525.00" cy="273.80" r="1.48"/><circle cx="538.05" cy="274.66" r="1.48"/><circle cx="547.96" cy="274.82" r="1.48"/><circle cx="563.09" cy="274.88" r="1.48"/><circle cx="544.20" cy="274.90" r="1.48"/><circle cx="560.30" cy="275.03" r="1.48"/><circle cx="536.62" cy="275.14" r="1.48"/><circle cx="538.10" cy="275.20" r="1.48"/><circle cx="541.70" cy="275.20" r="1.48"/><circle cx="549.92" cy="275.25" r="1.48"/><circle cx="518.50" cy="275.60" r="1.48"/><circle cx="534.10" cy="275.60" r="1.48"/><circle cx="542.63" cy="276.28" r="1.48"/><circle cx="547.90" cy="276.30" r="1.48"/></g>
<path d="M518.8 262.3L585.6 266.4" stroke="#5eb362" stroke-width="2.7"/>
<path d="M512.90 239.10V307.30H596.00" stroke="#000" stroke-width="1.7" fill="none"/>
<path d="M509.40 293.97H512.90" stroke="#111" stroke-width="1.3"/>
<text x="506.50" y="298.87" text-anchor="end" font-size="11.2" font-weight="bold" font-family="Liberation Sans, sans-serif" fill="#222" stroke="#222" stroke-width="0.3">3</text>
<path d="M509.40 278.58H512.90" stroke="#111" stroke-width="1.3"/>
<text x="506.50" y="283.48" text-anchor="end" font-size="11.2" font-weight="bold" font-family="Liberation Sans, sans-serif" fill="#222" stroke="#222" stroke-width="0.3">6</text>
<path d="M509.40 263.19H512.90" stroke="#111" stroke-width="1.3"/>
<text x="506.50" y="268.09" text-anchor="end" font-size="11.2" font-weight="bold" font-family="Liberation Sans, sans-serif" fill="#222" stroke="#222" stroke-width="0.3">9</text>
<path d="M509.40 247.80H512.90" stroke="#111" stroke-width="1.3"/>
<text x="505.70" y="252.70" text-anchor="end" font-size="11.2" font-weight="bold" font-family="Liberation Sans, sans-serif" fill="#222" stroke="#222" stroke-width="0.3">12</text>
<text transform="translate(491.2 273.30) rotate(-90)" text-anchor="middle" font-size="12.3" font-weight="bold" font-family="Liberation Sans, sans-serif" fill="#111" stroke="#111" stroke-width="0.3">Lifespan</text>
<path d="M533.90 307.00V310.50" stroke="#111" stroke-width="1.3"/>
<text x="533.30" y="320.60" text-anchor="middle" font-size="11.2" font-weight="bold" font-family="Liberation Sans, sans-serif" fill="#222" stroke="#222" stroke-width="0.3">8</text>
<path d="M557.25 307.00V310.50" stroke="#111" stroke-width="1.3"/>
<text x="552.95" y="320.60" text-anchor="middle" font-size="11.2" font-weight="bold" font-family="Liberation Sans, sans-serif" fill="#222" stroke="#222" stroke-width="0.3">10</text>
<path d="M580.60 307.00V310.50" stroke="#111" stroke-width="1.3"/>
<text x="576.30" y="320.60" text-anchor="middle" font-size="11.2" font-weight="bold" font-family="Liberation Sans, sans-serif" fill="#222" stroke="#222" stroke-width="0.3">12</text>
<text x="518.3" y="333.90" font-size="12.6" font-weight="bold" font-family="Liberation Sans, sans-serif" fill="#111" stroke="#111" stroke-width="0.3">Translation error rate (×10<tspan font-size="7.5" dy="-4.5">-4</tspan><tspan dy="4.5">)</tspan></text>
<rect x="599.40" y="217.30" width="81.60" height="21.80" fill="#fff" stroke="#000" stroke-width="1.7"/>
<text x="640.65" y="232.50" text-anchor="middle" font-size="11.2" font-weight="bold" font-family="Liberation Sans, sans-serif" fill="#4f924b" stroke="#4f924b" stroke-width="0.3">50%</text>
<g fill="#000"><circle cx="619.30" cy="243.70" r="1.48"/><circle cx="611.40" cy="244.90" r="1.48"/><circle cx="637.29" cy="247.50" r="1.48"/><circle cx="617.51" cy="247.80" r="1.48"/><circle cx="609.30" cy="248.70" r="1.48"/><circle cx="608.50" cy="249.60" r="1.48"/><circle cx="638.20" cy="249.60" r="1.48"/><circle cx="615.50" cy="250.10" r="1.48"/><circle cx="638.50" cy="251.00" r="1.48"/><circle cx="623.00" cy="251.01" r="1.48"/><circle cx="640.80" cy="251.90" r="1.48"/><circle cx="632.50" cy="252.16" r="1.48"/><circle cx="646.00" cy="253.79" r="1.48"/><circle cx="620.70" cy="254.00" r="1.48"/><circle cx="611.99" cy="254.20" r="1.48"/><circle cx="656.60" cy="254.20" r="1.48"/><circle cx="626.90" cy="254.50" r="1.48"/><circle cx="625.11" cy="255.10" r="1.48"/><circle cx="629.80" cy="255.70" r="1.48"/><circle cx="614.00" cy="256.00" r="1.48"/><circle cx="625.70" cy="256.30" r="1.48"/><circle cx="641.10" cy="256.30" r="1.48"/><circle cx="648.70" cy="256.30" r="1.48"/><circle cx="652.80" cy="256.90" r="1.48"/><circle cx="620.40" cy="257.21" r="1.48"/><circle cx="637.29" cy="257.21" r="1.48"/><circle cx="645.60" cy="257.21" r="1.48"/><circle cx="637.83" cy="257.40" r="1.48"/><circle cx="650.62" cy="257.41" r="1.48"/><circle cx="639.58" cy="258.14" r="1.48"/><circle cx="624.62" cy="258.83" r="1.48"/><circle cx="617.40" cy="258.90" r="1.48"/><circle cx="626.20" cy="258.90" r="1.48"/><circle cx="640.00" cy="258.90" r="1.48"/><circle cx="663.90" cy="259.20" r="1.48"/><circle cx="638.68" cy="259.26" r="1.48"/><circle cx="652.50" cy="259.33" r="1.48"/><circle cx="639.87" cy="259.36" r="1.48"/><circle cx="619.20" cy="259.50" r="1.48"/><circle cx="623.90" cy="259.50" r="1.48"/><circle cx="637.90" cy="259.50" r="1.48"/><circle cx="606.60" cy="259.70" r="1.48"/><circle cx="622.00" cy="259.98" r="1.48"/><circle cx="626.59" cy="260.08" r="1.48"/><circle cx="660.50" cy="260.17" r="1.48"/><circle cx="636.68" cy="260.34" r="1.48"/><circle cx="620.40" cy="260.60" r="1.48"/><circle cx="634.40" cy="260.60" r="1.48"/><circle cx="671.50" cy="260.60" r="1.48"/><circle cx="632.24" cy="261.02" r="1.48"/><circle cx="632.76" cy="261.06" r="1.48"/><circle cx="625.00" cy="261.20" r="1.48"/><circle cx="630.90" cy="261.20" r="1.48"/><circle cx="645.30" cy="261.20" r="1.48"/><circle cx="632.59" cy="261.65" r="1.48"/><circle cx="642.86" cy="261.77" r="1.48"/><circle cx="615.40" cy="261.80" r="1.48"/><circle cx="638.50" cy="261.80" r="1.48"/><circle cx="652.46" cy="262.12" r="1.48"/><circle cx="630.83" cy="262.35" r="1.48"/><circle cx="634.10" cy="262.79" r="1.48"/><circle cx="617.10" cy="263.00" r="1.48"/><circle cx="632.01" cy="263.00" r="1.48"/><circle cx="654.90" cy="263.00" r="1.48"/><circle cx="641.21" cy="263.00" r="1.48"/><circle cx="642.90" cy="263.00" r="1.48"/><circle cx="630.77" cy="263.10" r="1.48"/><circle cx="650.80" cy="263.20" r="1.48"/><circle cx="623.34" cy="263.45" r="1.48"/><circle cx="642.40" cy="263.46" r="1.48"/><circle cx="632.60" cy="264.10" r="1.48"/><circle cx="630.08" cy="264.27" r="1.48"/><circle cx="613.40" cy="264.30" r="1.48"/><circle cx="644.00" cy="264.31" r="1.48"/><circle cx="606.10" cy="264.42" r="1.48"/><circle cx="618.10" cy="264.42" r="1.48"/><circle cx="620.40" cy="264.42" r="1.48"/><circle cx="622.19" cy="264.53" r="1.48"/><circle cx="631.34" cy="264.91" r="1.48"/><circle cx="633.21" cy="265.00" r="1.48"/><circle cx="647.78" cy="265.06" r="1.48"/><circle cx="627.41" cy="265.20" r="1.48"/><circle cx="645.30" cy="265.20" r="1.48"/><circle cx="625.23" cy="265.33" r="1.48"/><circle cx="650.00" cy="265.50" r="1.48"/><circle cx="646.33" cy="265.53" r="1.48"/><circle cx="650.45" cy="265.68" r="1.48"/><circle cx="651.47" cy="265.80" r="1.48"/><circle cx="631.23" cy="265.96" r="1.48"/><circle cx="643.12" cy="265.98" r="1.48"/><circle cx="607.60" cy="266.10" r="1.48"/><circle cx="655.90" cy="266.10" r="1.48"/><circle cx="649.33" cy="266.13" r="1.48"/><circle cx="633.30" cy="266.40" r="1.48"/><circle cx="634.53" cy="266.58" r="1.48"/><circle cx="649.10" cy="266.60" r="1.48"/><circle cx="642.23" cy="266.61" r="1.48"/><circle cx="626.09" cy="266.76" r="1.48"/><circle cx="623.40" cy="266.90" r="1.48"/><circle cx="661.10" cy="267.20" r="1.48"/><circle cx="639.36" cy="267.35" r="1.48"/><circle cx="636.47" cy="267.42" r="1.48"/><circle cx="641.43" cy="267.49" r="1.48"/><circle cx="621.00" cy="267.50" r="1.48"/><circle cx="629.80" cy="267.50" r="1.48"/><circle cx="634.99" cy="267.50" r="1.48"/><circle cx="638.50" cy="267.50" r="1.48"/><circle cx="666.40" cy="267.50" r="1.48"/><circle cx="644.21" cy="267.50" r="1.48"/><circle cx="640.10" cy="267.50" r="1.48"/><circle cx="639.64" cy="267.82" r="1.48"/><circle cx="628.98" cy="267.82" r="1.48"/><circle cx="641.71" cy="267.86" r="1.48"/><circle cx="625.15" cy="267.87" r="1.48"/><circle cx="623.20" cy="268.00" r="1.48"/><circle cx="624.50" cy="268.10" r="1.48"/><circle cx="625.91" cy="268.31" r="1.48"/><circle cx="651.79" cy="268.40" r="1.48"/></g>
<path d="M606.0 257.8L671.6 264.3" stroke="#4f924b" stroke-width="2.7"/>
<path d="M599.40 239.10V307.30H682.50" stroke="#000" stroke-width="1.7" fill="none"/>
<path d="M620.40 307.00V310.50" stroke="#111" stroke-width="1.3"/>
<text x="619.80" y="320.60" text-anchor="middle" font-size="11.2" font-weight="bold" font-family="Liberation Sans, sans-serif" fill="#222" stroke="#222" stroke-width="0.3">8</text>
<path d="M643.75 307.00V310.50" stroke="#111" stroke-width="1.3"/>
<text x="639.45" y="320.60" text-anchor="middle" font-size="11.2" font-weight="bold" font-family="Liberation Sans, sans-serif" fill="#222" stroke="#222" stroke-width="0.3">10</text>
<path d="M667.10 307.00V310.50" stroke="#111" stroke-width="1.3"/>
<text x="662.80" y="320.60" text-anchor="middle" font-size="11.2" font-weight="bold" font-family="Liberation Sans, sans-serif" fill="#222" stroke="#222" stroke-width="0.3">12</text>
<rect x="512.90" y="409.70" width="81.60" height="21.80" fill="#fff" stroke="#000" stroke-width="1.7"/>
<text x="554.15" y="424.90" text-anchor="middle" font-size="11.2" font-weight="bold" font-family="Liberation Sans, sans-serif" fill="#3f6c3d" stroke="#3f6c3d" stroke-width="0.3">70%</text>
<g fill="#000"><circle cx="532.80" cy="436.10" r="1.48"/><circle cx="524.90" cy="437.30" r="1.48"/><circle cx="550.79" cy="439.90" r="1.48"/><circle cx="531.01" cy="440.20" r="1.48"/><circle cx="522.80" cy="441.10" r="1.48"/><circle cx="522.00" cy="442.00" r="1.48"/><circle cx="551.70" cy="442.00" r="1.48"/><circle cx="529.00" cy="442.50" r="1.48"/><circle cx="552.00" cy="443.40" r="1.48"/><circle cx="536.50" cy="443.41" r="1.48"/><circle cx="554.30" cy="444.30" r="1.48"/><circle cx="546.00" cy="444.56" r="1.48"/><circle cx="559.50" cy="446.19" r="1.48"/><circle cx="534.20" cy="446.40" r="1.48"/><circle cx="525.49" cy="446.60" r="1.48"/><circle cx="570.10" cy="446.60" r="1.48"/><circle cx="540.40" cy="446.90" r="1.48"/><circle cx="538.61" cy="447.50" r="1.48"/><circle cx="543.30" cy="448.10" r="1.48"/><circle cx="527.50" cy="448.40" r="1.48"/><circle cx="539.20" cy="448.70" r="1.48"/><circle cx="554.60" cy="448.70" r="1.48"/><circle cx="562.20" cy="448.70" r="1.48"/><circle cx="566.30" cy="449.30" r="1.48"/><circle cx="533.90" cy="449.61" r="1.48"/><circle cx="550.79" cy="449.61" r="1.48"/><circle cx="559.10" cy="449.61" r="1.48"/><circle cx="551.33" cy="449.80" r="1.48"/><circle cx="564.12" cy="449.81" r="1.48"/><circle cx="553.08" cy="450.54" r="1.48"/><circle cx="538.12" cy="451.23" r="1.48"/><circle cx="530.90" cy="451.30" r="1.48"/><circle cx="539.70" cy="451.30" r="1.48"/><circle cx="553.50" cy="451.30" r="1.48"/><circle cx="577.40" cy="451.60" r="1.48"/><circle cx="552.18" cy="451.66" r="1.48"/><circle cx="566.00" cy="451.73" r="1.48"/><circle cx="553.37" cy="451.76" r="1.48"/><circle cx="532.70" cy="451.90" r="1.48"/><circle cx="537.40" cy="451.90" r="1.48"/><circle cx="551.40" cy="451.90" r="1.48"/><circle cx="520.10" cy="452.10" r="1.48"/><circle cx="535.50" cy="452.38" r="1.48"/><circle cx="540.09" cy="452.48" r="1.48"/><circle cx="574.00" cy="452.57" r="1.48"/><circle cx="550.18" cy="452.74" r="1.48"/><circle cx="533.90" cy="453.00" r="1.48"/><circle cx="547.90" cy="453.00" r="1.48"/><circle cx="585.00" cy="453.00" r="1.48"/><circle cx="545.74" cy="453.42" r="1.48"/><circle cx="546.26" cy="453.46" r="1.48"/><circle cx="538.50" cy="453.60" r="1.48"/><circle cx="544.40" cy="453.60" r="1.48"/><circle cx="558.80" cy="453.60" r="1.48"/><circle cx="546.09" cy="454.05" r="1.48"/><circle cx="556.36" cy="454.17" r="1.48"/><circle cx="528.90" cy="454.20" r="1.48"/><circle cx="552.00" cy="454.20" r="1.48"/><circle cx="565.96" cy="454.52" r="1.48"/><circle cx="544.33" cy="454.75" r="1.48"/><circle cx="547.60" cy="455.19" r="1.48"/><circle cx="530.60" cy="455.40" r="1.48"/><circle cx="545.51" cy="455.40" r="1.48"/><circle cx="568.40" cy="455.40" r="1.48"/><circle cx="554.71" cy="455.40" r="1.48"/><circle cx="556.40" cy="455.40" r="1.48"/><circle cx="544.27" cy="455.50" r="1.48"/><circle cx="564.30" cy="455.60" r="1.48"/><circle cx="536.84" cy="455.85" r="1.48"/><circle cx="555.90" cy="455.86" r="1.48"/><circle cx="546.10" cy="456.50" r="1.48"/></g>
<path d="M520.0 446.9L584.8 453.7" stroke="#3f6c3d" stroke-width="2.7"/>
<path d="M512.90 431.50V499.70H596.00" stroke="#000" stroke-width="1.7" fill="none"/>
<path d="M509.40 486.37H512.90" stroke="#111" stroke-width="1.3"/>
<text x="506.50" y="491.27" text-anchor="end" font-size="11.2" font-weight="bold" font-family="Liberation Sans, sans-serif" fill="#222" stroke="#222" stroke-width="0.3">3</text>
<path d="M509.40 470.98H512.90" stroke="#111" stroke-width="1.3"/>
<text x="506.50" y="475.88" text-anchor="end" font-size="11.2" font-weight="bold" font-family="Liberation Sans, sans-serif" fill="#222" stroke="#222" stroke-width="0.3">6</text>
<path d="M509.40 455.59H512.90" stroke="#111" stroke-width="1.3"/>
<text x="506.50" y="460.49" text-anchor="end" font-size="11.2" font-weight="bold" font-family="Liberation Sans, sans-serif" fill="#222" stroke="#222" stroke-width="0.3">9</text>
<path d="M509.40 440.20H512.90" stroke="#111" stroke-width="1.3"/>
<text x="505.70" y="445.10" text-anchor="end" font-size="11.2" font-weight="bold" font-family="Liberation Sans, sans-serif" fill="#222" stroke="#222" stroke-width="0.3">12</text>
<text transform="translate(491.2 465.70) rotate(-90)" text-anchor="middle" font-size="12.3" font-weight="bold" font-family="Liberation Sans, sans-serif" fill="#111" stroke="#111" stroke-width="0.3">Lifespan</text>
<path d="M533.90 499.40V502.90" stroke="#111" stroke-width="1.3"/>
<text x="533.30" y="513.00" text-anchor="middle" font-size="11.2" font-weight="bold" font-family="Liberation Sans, sans-serif" fill="#222" stroke="#222" stroke-width="0.3">8</text>
<path d="M557.25 499.40V502.90" stroke="#111" stroke-width="1.3"/>
<text x="552.95" y="513.00" text-anchor="middle" font-size="11.2" font-weight="bold" font-family="Liberation Sans, sans-serif" fill="#222" stroke="#222" stroke-width="0.3">10</text>
<path d="M580.60 499.40V502.90" stroke="#111" stroke-width="1.3"/>
<text x="576.30" y="513.00" text-anchor="middle" font-size="11.2" font-weight="bold" font-family="Liberation Sans, sans-serif" fill="#222" stroke="#222" stroke-width="0.3">12</text>
<text x="518.3" y="526.30" font-size="12.6" font-weight="bold" font-family="Liberation Sans, sans-serif" fill="#111" stroke="#111" stroke-width="0.3">Translation error rate (×10<tspan font-size="7.5" dy="-4.5">-4</tspan><tspan dy="4.5">)</tspan></text>
<rect x="599.40" y="409.70" width="81.60" height="21.80" fill="#fff" stroke="#000" stroke-width="1.7"/>
<text x="640.65" y="424.90" text-anchor="middle" font-size="11.2" font-weight="bold" font-family="Liberation Sans, sans-serif" fill="#2e4f2e" stroke="#2e4f2e" stroke-width="0.3">90%</text>
<g fill="#000"><circle cx="619.30" cy="436.10" r="1.48"/><circle cx="611.40" cy="437.30" r="1.48"/><circle cx="637.29" cy="439.90" r="1.48"/><circle cx="617.51" cy="440.20" r="1.48"/><circle cx="609.30" cy="441.10" r="1.48"/><circle cx="608.50" cy="442.00" r="1.48"/><circle cx="638.20" cy="442.00" r="1.48"/><circle cx="615.50" cy="442.50" r="1.48"/><circle cx="638.50" cy="443.40" r="1.48"/><circle cx="623.00" cy="443.41" r="1.48"/><circle cx="640.80" cy="444.30" r="1.48"/><circle cx="632.50" cy="444.56" r="1.48"/><circle cx="646.00" cy="446.19" r="1.48"/><circle cx="620.70" cy="446.40" r="1.48"/><circle cx="611.99" cy="446.60" r="1.48"/><circle cx="656.60" cy="446.60" r="1.48"/><circle cx="626.90" cy="446.90" r="1.48"/><circle cx="625.11" cy="447.50" r="1.48"/><circle cx="629.80" cy="448.10" r="1.48"/><circle cx="614.00" cy="448.40" r="1.48"/><circle cx="625.70" cy="448.70" r="1.48"/><circle cx="641.10" cy="448.70" r="1.48"/><circle cx="648.70" cy="448.70" r="1.48"/><circle cx="652.80" cy="449.30" r="1.48"/></g>
<path d="M608.9 441.7L656.8 447.5" stroke="#2e4f2e" stroke-width="2.7"/>
<path d="M599.40 431.50V499.70H682.50" stroke="#000" stroke-width="1.7" fill="none"/>
<path d="M620.40 499.40V502.90" stroke="#111" stroke-width="1.3"/>
<text x="619.80" y="513.00" text-anchor="middle" font-size="11.2" font-weight="bold" font-family="Liberation Sans, sans-serif" fill="#222" stroke="#222" stroke-width="0.3">8</text>
<path d="M643.75 499.40V502.90" stroke="#111" stroke-width="1.3"/>
<text x="639.45" y="513.00" text-anchor="middle" font-size="11.2" font-weight="bold" font-family="Liberation Sans, sans-serif" fill="#222" stroke="#222" stroke-width="0.3">10</text>
<path d="M667.10 499.40V502.90" stroke="#111" stroke-width="1.3"/>
<text x="662.80" y="513.00" text-anchor="middle" font-size="11.2" font-weight="bold" font-family="Liberation Sans, sans-serif" fill="#222" stroke="#222" stroke-width="0.3">12</text>
</svg>
</body></html>
